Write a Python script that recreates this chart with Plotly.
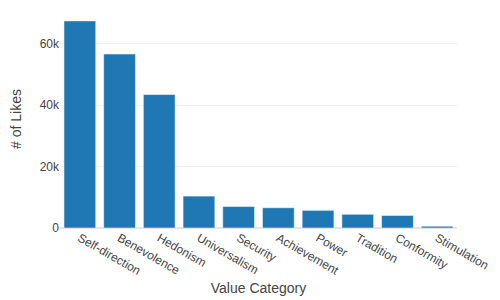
import plotly.graph_objects as go

categories = ["Self-direction", "Benevolence", "Hedonism", "Universalism", "Security",
              "Achievement", "Power", "Tradition", "Conformity", "Stimulation"]
likes = [67500, 56700, 43500, 10400, 7000, 6600, 5750, 4450, 4100, 600]

fig = go.Figure(go.Bar(x=categories, y=likes, marker_color="#1f77b4",
                       marker_line=dict(color="rgba(255,255,255,0.5)", width=1)))
fig.update_layout(
    template="plotly_white",
    width=492, height=292,
    margin=dict(l=52, r=43, t=2, b=72, autoexpand=False),
    font=dict(family="Arial", color="#444", size=12),
    xaxis=dict(title=dict(text="Value Category", standoff=6), tickangle=30,
               automargin=False, showgrid=False),
    yaxis=dict(title=dict(text="# of Likes"), automargin=False,
               gridcolor="#eee", zerolinecolor="#e5e5e5", zerolinewidth=2),
)
fig.write_html("out.html")
